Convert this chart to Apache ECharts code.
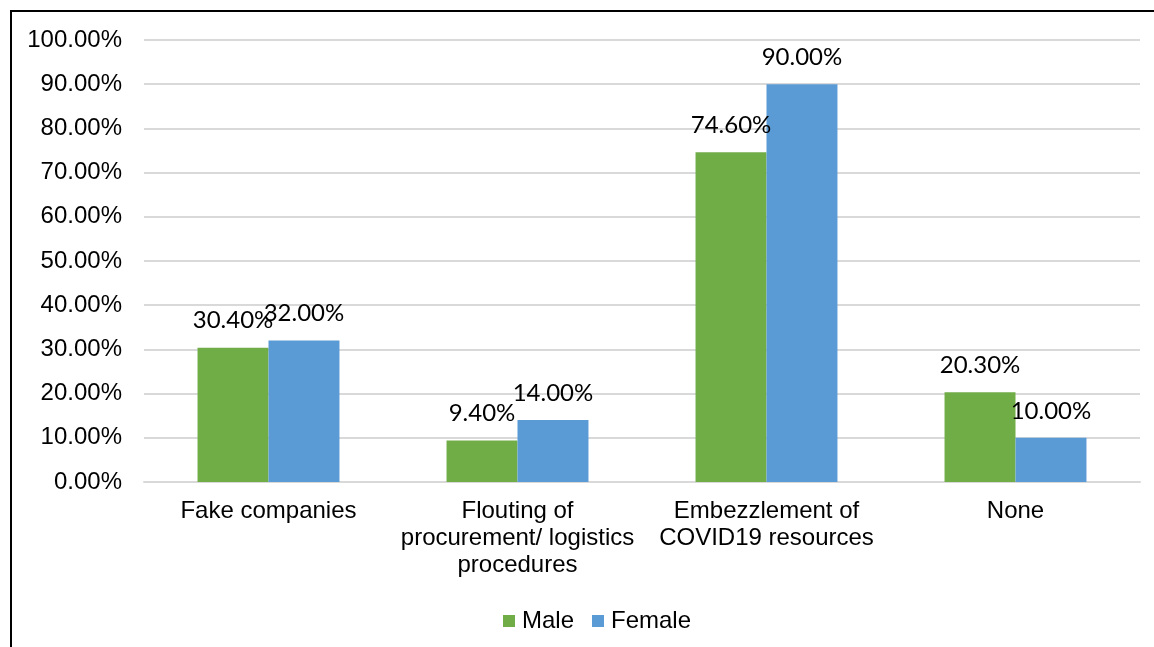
<!DOCTYPE html>
<html>
<head>
<meta charset="utf-8">
<script src="https://cdn.jsdelivr.net/npm/echarts@6/dist/echarts.min.js"></script>
<style>
html,body{margin:0;padding:0;background:#fff;}
#c{width:1154px;height:647px;}
</style>
</head>
<body>
<div id="c"></div>
<script>
const categories = ['Fake companies', 'Flouting of\nprocurement/ logistics\nprocedures', 'Embezzlement of\nCOVID19 resources', 'None'];
const maleValues = [30.4, 9.4, 74.6, 20.3];
const femaleValues = [32.0, 14.0, 90.0, 10.0];
const seriesNames = ['Male', 'Female'];

const chart = echarts.init(document.getElementById('c'));
const labelStyle = {
  show: true,
  position: 'top',
  distance: 15,
  fontFamily: 'Lato',
  fontSize: 24,
  color: '#000',
  formatter: p => p.value.toFixed(2) + '%'
};
chart.setOption({
  animation: false,
  backgroundColor: '#fff',
  graphic: [{
    type: 'rect',
    shape: {x: 11, y: 11, width: 1300, height: 800},
    style: {fill: 'none', stroke: '#000', lineWidth: 2},
    silent: true
  }],
  grid: {left: 144, right: 14, top: 40, bottom: 165},
  legend: {
    left: 498,
    top: 604,
    itemWidth: 12,
    itemHeight: 12,
    itemGap: 18,
    icon: 'rect',
    textStyle: {fontFamily: 'Liberation Sans', fontSize: 24, color: '#000', padding: [0, 0, 0, 2]},
    data: seriesNames
  },
  xAxis: {
    type: 'category',
    data: categories,
    axisTick: {show: false},
    axisLine: {lineStyle: {color: '#d9d9d9', width: 2}},
    axisLabel: {
      interval: 0,
      margin: 16,
      fontFamily: 'Liberation Sans',
      fontSize: 24,
      lineHeight: 27,
      color: '#000'
    }
  },
  yAxis: {
    type: 'value',
    min: 0,
    max: 100,
    interval: 10,
    axisLine: {show: false},
    axisTick: {show: false},
    splitLine: {lineStyle: {color: '#d9d9d9', width: 2}},
    axisLabel: {
      margin: 22,
      fontFamily: 'Liberation Sans',
      fontSize: 24,
      color: '#000',
      formatter: v => v.toFixed(2) + '%'
    }
  },
  series: [
    {
      name: seriesNames[0],
      type: 'bar',
      data: maleValues,
      itemStyle: {color: '#70AD47'},
      barGap: '0%',
      barCategoryGap: '43%',
      label: labelStyle
    },
    {
      name: seriesNames[1],
      type: 'bar',
      data: femaleValues,
      itemStyle: {color: '#5B9BD5'},
      label: labelStyle
    }
  ]
});
</script>
</body>
</html>
